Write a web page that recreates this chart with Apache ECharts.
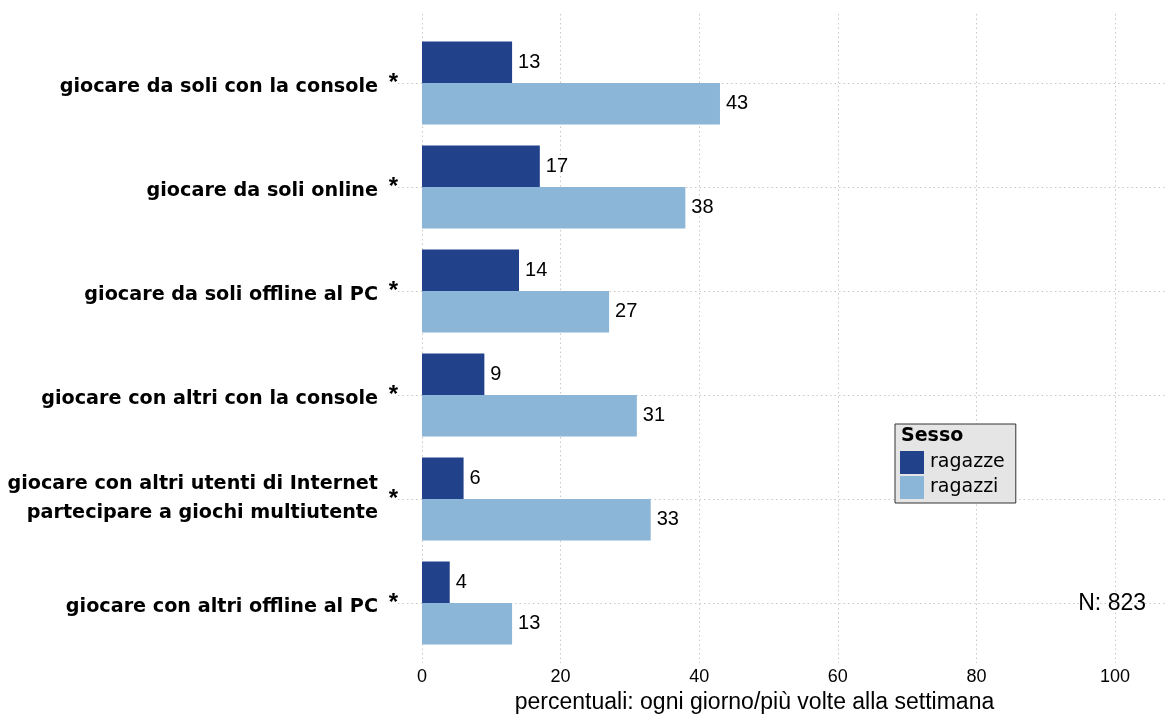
<!DOCTYPE html>
<html>
<head>
<meta charset="utf-8">
<script src="https://cdn.jsdelivr.net/npm/echarts@6/dist/echarts.min.js"></script>
<style>
html,body{margin:0;padding:0;background:#fff;}
#chart{width:1166px;height:719px;}
</style>
</head>
<body>
<div id="chart"></div>
<script>
var categories = [
  "giocare da soli con la console",
  "giocare da soli online",
  "giocare da soli offline al PC",
  "giocare con altri con la console",
  "giocare con altri utenti di Internet\npartecipare a giochi multiutente",
  "giocare con altri offline al PC"
];
var markers = ["*", "*", "*", "*", "*", "*"];
var ragazze = [13, 17, 14, 9, 6, 4];
var ragazzi = [43, 38, 27, 31, 33, 13];
var seriesNames = ["ragazze", "ragazzi"];
var legendTitle = "Sesso";
var nText = "N: 823";
var xName = "percentuali: ogni giorno/più volte alla settimana";

var FONT = "Liberation Sans, Arial, Helvetica, sans-serif";
var WIDE = "DejaVu Sans, Liberation Sans, sans-serif";
var gridLine = {show: true, lineStyle: {color: "#c8c8c8", type: [1.5, 3], width: 1}};
var catFont = {fontFamily: WIDE, fontSize: 19.2, fontWeight: "bold", color: "#000"};

var chart = echarts.init(document.getElementById("chart"), null, {renderer: "canvas"});
chart.setOption({
  backgroundColor: "#ffffff",
  animation: false,
  textStyle: {fontFamily: FONT},
  title: [
    {text: legendTitle, left: 901, top: 427, z: 20, padding: 0,
     textStyle: {fontFamily: WIDE, fontSize: 19, fontWeight: "bold", color: "#000"}},
    {text: nText, right: 20, top: 592, padding: 0,
     textStyle: {fontFamily: FONT, fontSize: 23, fontWeight: "normal", color: "#000"}}
  ],
  legend: {
    data: seriesNames,
    orient: "vertical",
    left: 895, top: 424,
    icon: "rect",
    itemWidth: 24, itemHeight: 23, itemGap: 2,
    padding: [27, 11, 4, 5],
    backgroundColor: "#e5e5e5",
    borderColor: "#333",
    borderWidth: 1,
    textStyle: {fontFamily: WIDE, fontSize: 19, color: "#000", padding: [0, 0, 0, 1]},
    selectedMode: false
  },
  grid: [
    {left: 422, right: 51, top: 14, bottom: 44, containLabel: false},
    {left: 398, right: 0, top: 83, bottom: 116, containLabel: false},
    {left: 422, right: 51, top: 31, bottom: 64, containLabel: false}
  ],
  xAxis: [
    {gridIndex: 0, type: "value", min: 0, max: 100, interval: 20,
     axisLine: {show: false}, axisTick: {show: false},
     axisLabel: {fontFamily: FONT, fontSize: 18, color: "#000", margin: 5},
     splitLine: gridLine,
     name: xName, nameLocation: "middle", nameGap: 24,
     nameTextStyle: {fontFamily: FONT, fontSize: 23, color: "#000", verticalAlign: "top",
                     padding: [0, 28, 0, 0]}},
    {gridIndex: 1, type: "value", min: 0, max: 1, show: false},
    {gridIndex: 2, type: "value", min: 0, max: 100, show: false}
  ],
  yAxis: [
    {gridIndex: 0, type: "value", show: false},
    {gridIndex: 1, type: "value", min: 0, max: 5, interval: 1, inverse: true,
     axisLine: {show: false}, axisTick: {show: false}, axisLabel: {show: false},
     splitLine: gridLine},
    {gridIndex: 2, type: "category", data: categories, inverse: true,
     axisLine: {show: false}, axisTick: {show: false}, splitLine: {show: false},
     axisLabel: {fontFamily: WIDE, fontSize: 19.2, fontWeight: "bold", color: "#000",
                 margin: 44, align: "right",
                 formatter: function (v) {
                   return v.indexOf("\n") < 0 ? "{s|" + v + "}" : "{m|" + v + "}";
                 },
                 rich: {
                   s: Object.assign({lineHeight: 20, padding: [9, 0, 0, 0], align: "right"}, catFont),
                   m: Object.assign({lineHeight: 29, align: "right"}, catFont)
                 }}},
    {gridIndex: 2, type: "category", data: markers, inverse: true, position: "left",
     axisLine: {show: false}, axisTick: {show: false}, splitLine: {show: false},
     axisLabel: {fontFamily: FONT, fontSize: 24, fontWeight: "bold", color: "#000",
                 margin: 24, align: "right"}}
  ],
  series: [
    {name: seriesNames[0], type: "bar", xAxisIndex: 2, yAxisIndex: 2, data: ragazze,
     barCategoryGap: "20%", barGap: "0%",
     itemStyle: {color: "#21418a"},
     label: {show: true, position: "right", distance: 6, fontFamily: FONT, fontSize: 20, color: "#000"}},
    {name: seriesNames[1], type: "bar", xAxisIndex: 2, yAxisIndex: 2, data: ragazzi,
     barCategoryGap: "20%", barGap: "0%",
     itemStyle: {color: "#8cb6d8"},
     label: {show: true, position: "right", distance: 6, fontFamily: FONT, fontSize: 20, color: "#000"}}
  ]
});
</script>
</body>
</html>
